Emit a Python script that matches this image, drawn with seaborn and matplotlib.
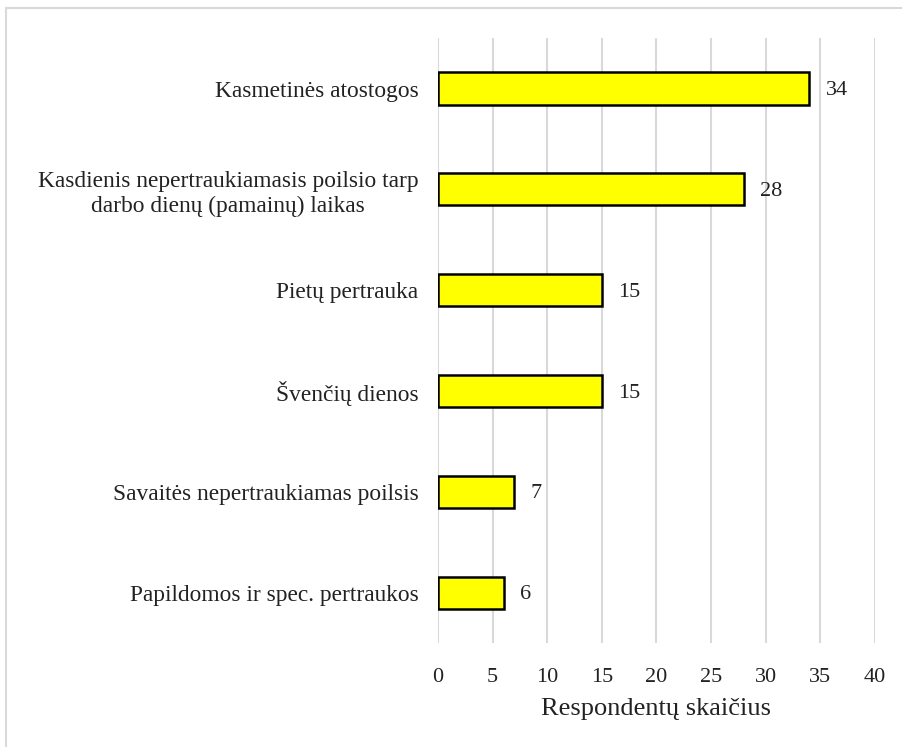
import matplotlib
matplotlib.use("Agg")
import matplotlib.pyplot as plt
import seaborn as sns
import pandas as pd
from matplotlib.patches import Rectangle

categories = [
    "Kasmetinės atostogos",
    "Kasdienis nepertraukiamasis poilsio tarp\ndarbo dienų (pamainų) laikas",
    "Pietų pertrauka",
    "Švenčių dienos",
    "Savaitės nepertraukiamas poilsis",
    "Papildomos ir spec. pertraukos",
]
counts = [34, 28, 15, 15, 7, 6]
x_ticks = [0, 5, 10, 15, 20, 25, 30, 35, 40]

sns.set_style("white")
plt.rcParams["font.family"] = ["Liberation Serif", "DejaVu Serif"]

df = pd.DataFrame({"kategorija": categories, "skaicius": counts})

fig = plt.figure(figsize=(9.03, 7.47), dpi=100)
ax = fig.add_axes([0.485, 0.139, 0.484, 0.81])

sns.barplot(data=df, x="skaicius", y="kategorija", orient="h", color="#ffff00",
            saturation=1, edgecolor="black", linewidth=1.8, width=0.32, ax=ax, zorder=3)

for i, v in enumerate(counts):
    ax.text(v + 1.5, i + 0.02, str(v), va="center", ha="left", fontsize=16, color="#222222")

ax.set_xlim(0, 40)
ax.set_ylim(5.5, -0.5)
ax.set_xticks(x_ticks)
ax.set_xticklabels([str(t) for t in x_ticks], fontsize=16, color="#222222")
ax.tick_params(axis="x", length=0, pad=18)
ax.tick_params(axis="y", length=0, pad=14)
for lab in ax.get_yticklabels():
    lab.set_fontsize(16.8)
    lab.set_color("#222222")
    lab.set_multialignment("center")
    lab.set_linespacing(1.25)
ax.set_ylabel("")
ax.set_xlabel("Respondentų skaičius", fontsize=19, color="#222222", labelpad=8)
ax.grid(axis="x", color="#d9d9d9", linewidth=1.5, zorder=0)
ax.set_axisbelow(True)
sns.despine(ax=ax, left=True, bottom=True)

fig.patches.append(Rectangle((6 / 903, -0.05), 1.1, 1 - 8 / 747 + 0.05,
                             transform=fig.transFigure, fill=False,
                             edgecolor="#d9d9d9", linewidth=1.5))

fig.savefig("out.png", dpi=100)
